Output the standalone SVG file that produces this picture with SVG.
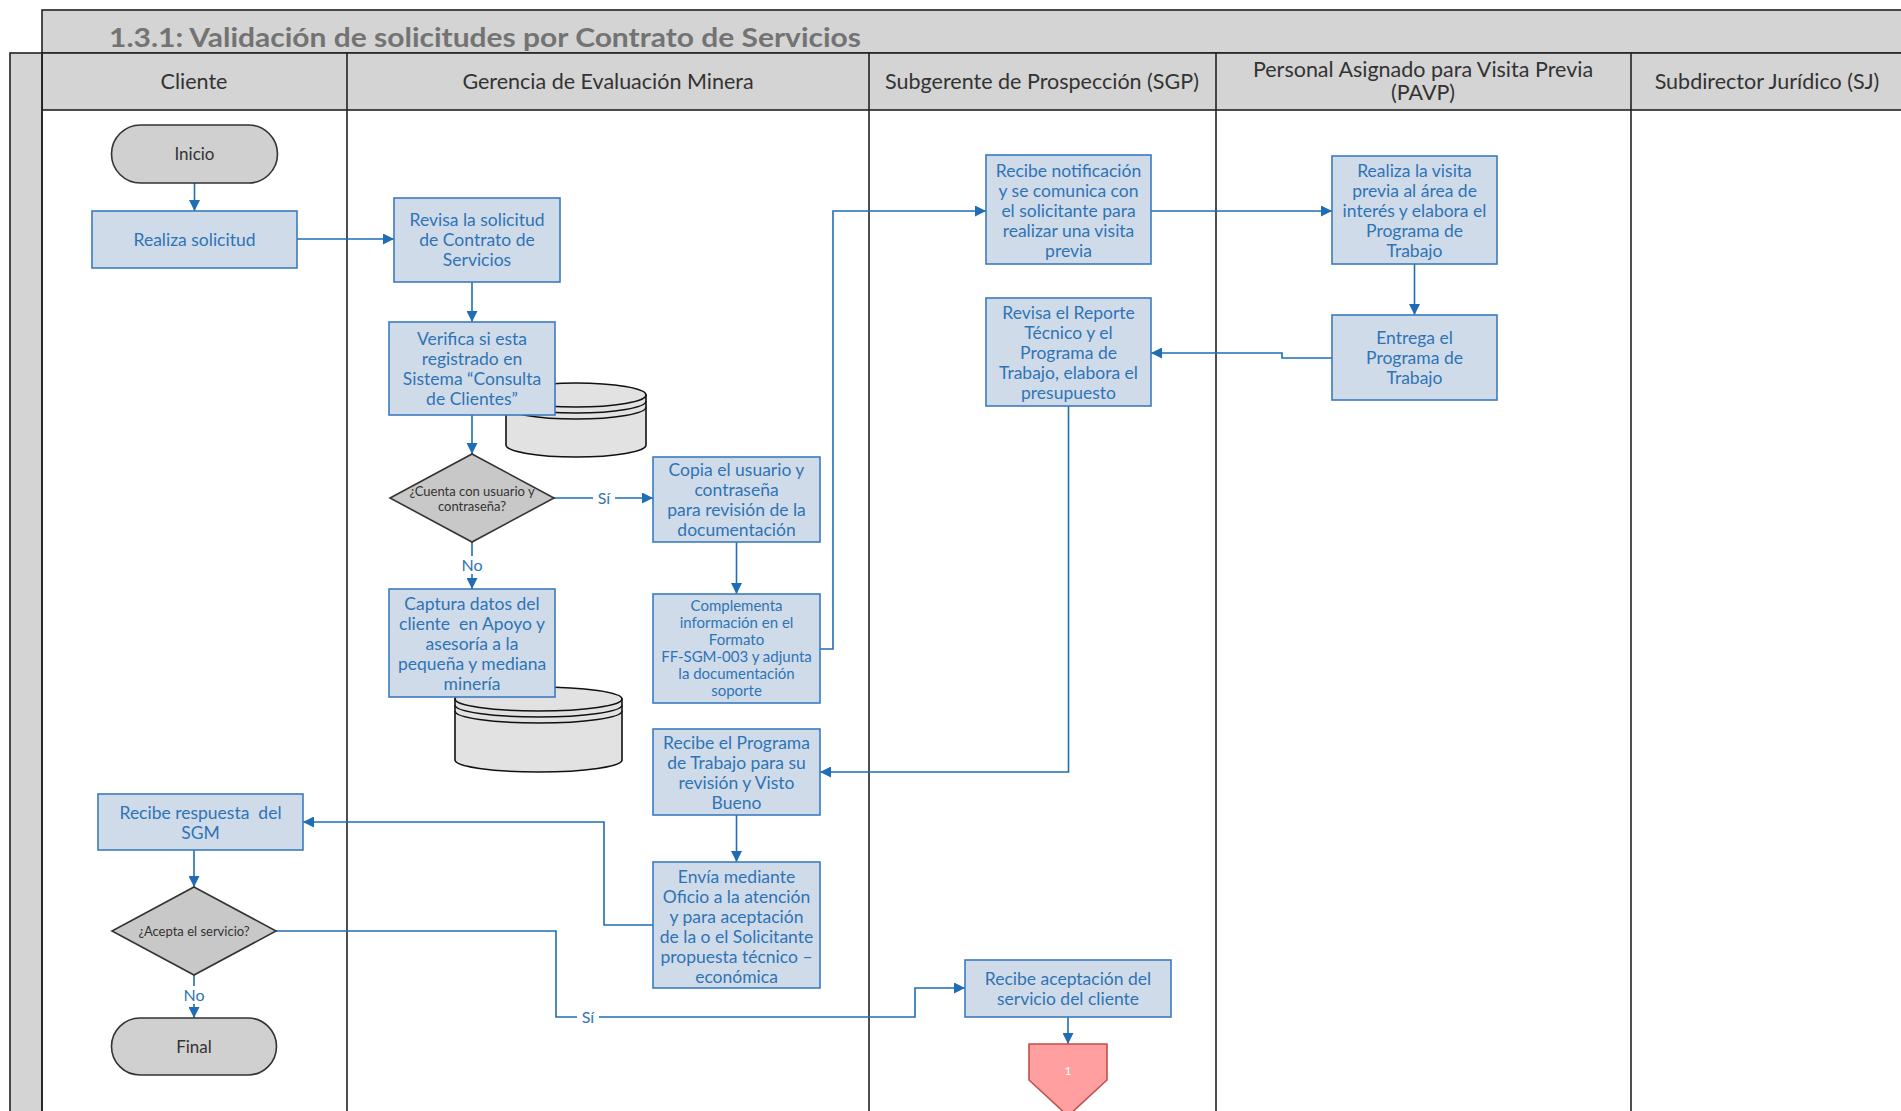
<svg xmlns="http://www.w3.org/2000/svg" width="1901" height="1111" viewBox="0 0 1901 1111">
<defs>
<marker id="arr" viewBox="0 0 10 10" refX="10" refY="5" markerWidth="11" markerHeight="11" markerUnits="userSpaceOnUse" orient="auto"><path d="M0,0 L10,5 L0,10 z" fill="#1f6db4"/></marker>
<style>
.band{fill:#d4d4d4;stroke:#222;stroke-width:1.6}
.lane{stroke:#222;stroke-width:1.6;fill:none}
.hdr{font-family:Lato,"Liberation Sans",sans-serif;font-size:21.5px;fill:#333;text-anchor:middle}
.box{fill:#d0dbea;stroke:#3b7bbf;stroke-width:1.6}
.t{font-family:Lato,"Liberation Sans",sans-serif;font-size:17.5px;fill:#2e74b5;text-anchor:middle}
.ts{font-family:Lato,"Liberation Sans",sans-serif;font-size:15px;fill:#2e74b5;text-anchor:middle}
.term{fill:#d0d0d0;stroke:#333;stroke-width:1.6}
.dia{fill:#c8c8c8;stroke:#333;stroke-width:1.6}
.dark{font-family:Lato,"Liberation Sans",sans-serif;font-size:17px;fill:#333;text-anchor:middle}
.dsm{font-family:Lato,"Liberation Sans",sans-serif;font-size:13px;fill:#333;text-anchor:middle}
.cyl{fill:#e2e2e2;stroke:#111;stroke-width:1.6}
.cr{fill:none;stroke:#111;stroke-width:1.4}
.c{fill:none;stroke:#1f6db4;stroke-width:1.6;marker-end:url(#arr)}
.lbl{font-family:Lato,"Liberation Sans",sans-serif;font-size:16px;fill:#2e74b5;text-anchor:middle}
</style>
</defs>
<rect x="0" y="0" width="1901" height="1111" fill="#fff"/>
<g id="pool">
<rect class="band" x="42" y="10" width="1870" height="43"/>
<text x="109" y="47" font-family="Lato,'Liberation Sans',sans-serif" font-size="27" font-weight="bold" fill="#737373" textLength="752" lengthAdjust="spacingAndGlyphs">1.3.1: Validación de solicitudes por Contrato de Servicios</text>
<rect class="band" x="42" y="53" width="1870" height="57"/>
<rect class="band" x="10" y="53" width="32" height="1070"/>
<line class="lane" x1="42" y1="53" x2="42" y2="1111"/>
<line class="lane" x1="347" y1="53" x2="347" y2="1111"/>
<line class="lane" x1="869" y1="53" x2="869" y2="1111"/>
<line class="lane" x1="1216" y1="53" x2="1216" y2="1111"/>
<line class="lane" x1="1631" y1="53" x2="1631" y2="1111"/>
<text class="hdr" x="194" y="89">Cliente</text>
<text class="hdr" x="608" y="89">Gerencia de Evaluación Minera</text>
<text class="hdr" x="1042" y="89">Subgerente de Prospección (SGP)</text>
<text class="hdr" x="1423" y="77">Personal Asignado para Visita Previa</text>
<text class="hdr" x="1423" y="100">(PAVP)</text>
<text class="hdr" x="1767" y="89">Subdirector Jurídico (SJ)</text>
</g>
<g id="db1">
<path class="cyl" d="M506,395 L506,445 A70,12 0 0 0 646,445 L646,395 Z"/>
<ellipse class="cyl" cx="576" cy="395" rx="70" ry="12"/>
<path class="cr" d="M506,401 A70,12 0 0 0 646,401"/>
<path class="cr" d="M506,407 A70,12 0 0 0 646,407"/>
</g>
<g id="db2">
<path class="cyl" d="M455,699 L455,760 A83.5,12 0 0 0 622,760 L622,699 Z"/>
<ellipse class="cyl" cx="538.5" cy="699" rx="83.5" ry="12"/>
<path class="cr" d="M455,705 A83.5,12 0 0 0 622,705"/>
<path class="cr" d="M455,711 A83.5,12 0 0 0 622,711"/>
</g>
<g id="connectors">
<path class="c" d="M194.5,183 L194.5,211"/>
<path class="c" d="M297,239 L394,239"/>
<path class="c" d="M472,282 L472,322"/>
<path class="c" d="M472,415 L472,454"/>
<path class="c" d="M554,498 L653,498"/>
<path class="c" d="M472,542 L472,589"/>
<path class="c" d="M736.5,542 L736.5,594"/>
<path class="c" d="M820,649 L833,649 L833,211 L986,211"/>
<path class="c" d="M1151,211 L1332,211"/>
<path class="c" d="M1414.5,264 L1414.5,315"/>
<path class="c" d="M1332,358 L1282,358 L1282,353 L1151,353"/>
<path class="c" d="M1068.5,406 L1068.5,772 L820,772"/>
<path class="c" d="M736.5,815 L736.5,862"/>
<path class="c" d="M653,925 L604,925 L604,822 L303,822"/>
<path class="c" d="M194,850 L194,887"/>
<path class="c" d="M194,975 L194,1018"/>
<path class="c" d="M276,931 L556,931 L556,1017 L915,1017 L915,988 L965,988"/>
<path class="c" d="M1068,1017 L1068,1044"/>
<rect x="593" y="489" width="22" height="18" fill="#fff"/>
<text class="lbl" x="604" y="504">Sí</text>
<rect x="458" y="556" width="28" height="18" fill="#fff"/>
<text class="lbl" x="472" y="571">No</text>
<rect x="180" y="986" width="28" height="18" fill="#fff"/>
<text class="lbl" x="194" y="1001">No</text>
<rect x="577" y="1008" width="22" height="18" fill="#fff"/>
<text class="lbl" x="588" y="1023">Sí</text>
</g>
<g id="inicio">
<rect class="term" x="111.5" y="125" width="166" height="58" rx="29"/>
<text class="dark" x="194.5" y="160">Inicio</text>
</g>
<g id="realiza-solicitud">
<rect class="box" x="92" y="211" width="205" height="57"/>
<text class="t" x="194.5" y="245.5">Realiza solicitud</text>
</g>
<g id="revisa-solicitud">
<rect class="box" x="394" y="198" width="166" height="84"/>
<text class="t" x="477" y="225.5">Revisa la solicitud</text>
<text class="t" x="477" y="245.5">de Contrato de</text>
<text class="t" x="477" y="265.5">Servicios</text>
</g>
<g id="verifica">
<rect class="box" x="389" y="322" width="166" height="93"/>
<text class="t" x="472" y="344.5">Verifica si esta</text>
<text class="t" x="472" y="364.5">registrado en</text>
<text class="t" x="472" y="384.5">Sistema “Consulta</text>
<text class="t" x="472" y="404.5">de Clientes”</text>
</g>
<g id="cuenta-usuario">
<polygon class="dia" points="472,454 554,498 472,542 390,498"/>
<text class="dsm" x="472" y="496">¿Cuenta con usuario y</text>
<text class="dsm" x="472" y="511">contraseña?</text>
</g>
<g id="copia">
<rect class="box" x="653" y="457" width="167" height="85"/>
<text class="t" x="736.5" y="475.5">Copia el usuario y</text>
<text class="t" x="736.5" y="495.5">contraseña</text>
<text class="t" x="736.5" y="515.5">para revisión de la</text>
<text class="t" x="736.5" y="535.5">documentación</text>
</g>
<g id="captura">
<rect class="box" x="389" y="589" width="166" height="108"/>
<text class="t" x="472" y="609.5">Captura datos del</text>
<text class="t" x="472" y="629.5" xml:space="preserve">cliente  en Apoyo y</text>
<text class="t" x="472" y="649.5">asesoría a la</text>
<text class="t" x="472" y="669.5">pequeña y mediana</text>
<text class="t" x="472" y="689.5">minería</text>
</g>
<g id="complementa">
<rect class="box" x="653" y="594" width="167" height="109"/>
<text class="ts" x="736.5" y="611">Complementa</text>
<text class="ts" x="736.5" y="628">información en el</text>
<text class="ts" x="736.5" y="645">Formato</text>
<text class="ts" x="736.5" y="662">FF-SGM-003 y adjunta</text>
<text class="ts" x="736.5" y="679">la documentación</text>
<text class="ts" x="736.5" y="696">soporte</text>
</g>
<g id="recibe-programa">
<rect class="box" x="653" y="729" width="167" height="86"/>
<text class="t" x="736.5" y="748.5">Recibe el Programa</text>
<text class="t" x="736.5" y="768.5">de Trabajo para su</text>
<text class="t" x="736.5" y="788.5">revisión y Visto</text>
<text class="t" x="736.5" y="808.5">Bueno</text>
</g>
<g id="envia">
<rect class="box" x="653" y="862" width="167" height="126"/>
<text class="t" x="736.5" y="882.5">Envía mediante</text>
<text class="t" x="736.5" y="902.5">Oficio a la atención</text>
<text class="t" x="736.5" y="922.5">y para aceptación</text>
<text class="t" x="736.5" y="942.5">de la o el Solicitante</text>
<text class="t" x="736.5" y="962.5">propuesta técnico –</text>
<text class="t" x="736.5" y="982.5">económica</text>
</g>
<g id="recibe-respuesta">
<rect class="box" x="98" y="794" width="205" height="56"/>
<text class="t" x="200.5" y="818.5" xml:space="preserve">Recibe respuesta  del</text>
<text class="t" x="200.5" y="838.5">SGM</text>
</g>
<g id="acepta">
<polygon class="dia" points="194,887 276,931 194,975 112,931"/>
<text class="dsm" x="194" y="936" font-size="14.5">¿Acepta el servicio?</text>
</g>
<g id="final">
<rect class="term" x="111.5" y="1018" width="165" height="57" rx="28.5"/>
<text class="dark" x="194" y="1052.5">Final</text>
</g>
<g id="recibe-notificacion">
<rect class="box" x="986" y="155" width="165" height="109"/>
<text class="t" x="1068.5" y="176.5">Recibe notificación</text>
<text class="t" x="1068.5" y="196.5">y se comunica con</text>
<text class="t" x="1068.5" y="216.5">el solicitante para</text>
<text class="t" x="1068.5" y="236.5">realizar una visita</text>
<text class="t" x="1068.5" y="256.5">previa</text>
</g>
<g id="revisa-reporte">
<rect class="box" x="986" y="298" width="165" height="108"/>
<text class="t" x="1068.5" y="318.5">Revisa el Reporte</text>
<text class="t" x="1068.5" y="338.5">Técnico y el</text>
<text class="t" x="1068.5" y="358.5">Programa de</text>
<text class="t" x="1068.5" y="378.5">Trabajo, elabora el</text>
<text class="t" x="1068.5" y="398.5">presupuesto</text>
</g>
<g id="realiza-visita">
<rect class="box" x="1332" y="156" width="165" height="108"/>
<text class="t" x="1414.5" y="176.5">Realiza la visita</text>
<text class="t" x="1414.5" y="196.5">previa al área de</text>
<text class="t" x="1414.5" y="216.5">interés y elabora el</text>
<text class="t" x="1414.5" y="236.5">Programa de</text>
<text class="t" x="1414.5" y="256.5">Trabajo</text>
</g>
<g id="entrega">
<rect class="box" x="1332" y="315" width="165" height="85"/>
<text class="t" x="1414.5" y="343.5">Entrega el</text>
<text class="t" x="1414.5" y="363.5">Programa de</text>
<text class="t" x="1414.5" y="383.5">Trabajo</text>
</g>
<g id="recibe-aceptacion">
<rect class="box" x="965" y="960" width="206" height="57"/>
<text class="t" x="1068" y="984.5">Recibe aceptación del</text>
<text class="t" x="1068" y="1004.5">servicio del cliente</text>
</g>
<g id="conector-1">
<polygon points="1029,1044 1107,1044 1107,1080 1068,1116 1029,1080" fill="#ff9f9f" stroke="#c0504d" stroke-width="1.6"/>
<text x="1068" y="1075" font-family="Lato,'Liberation Sans',sans-serif" font-size="12" fill="#fff" text-anchor="middle">1</text>
</g>
</svg>
